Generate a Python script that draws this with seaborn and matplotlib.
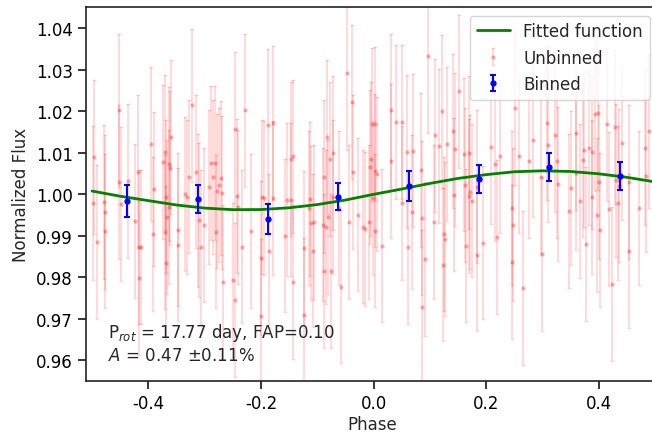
import numpy as np
import pandas as pd
import matplotlib
matplotlib.use("Agg")
import matplotlib.pyplot as plt
import seaborn as sns

# ---------------- data ----------------
fit_phase = [-0.50, -0.45, -0.40, -0.35, -0.30, -0.25, -0.20, -0.15, -0.10, -0.05,
             0.00, 0.05, 0.10, 0.15, 0.20, 0.25, 0.30, 0.35, 0.40, 0.45, 0.50]
fit_flux = [1.00075, 0.99950, 0.99844, 0.99739, 0.99664, 0.99626, 0.99629, 0.99671,
            0.99749, 0.99858, 0.99995, 1.00123, 1.00258, 1.00379, 1.00470, 1.00539,
            1.00562, 1.00546, 1.00490, 1.00405, 1.00295]

binned_phase = [-0.4375, -0.3125, -0.1875, -0.0625, 0.0625, 0.1875, 0.3125, 0.4375]
binned_flux = [0.99835, 0.99883, 0.99402, 0.99940, 1.00193, 1.00360, 1.00647, 1.00440]
binned_err = [0.0039, 0.0034, 0.0035, 0.0032, 0.0037, 0.0034, 0.0034, 0.0033]

unbinned_phase = [
    -0.4959, -0.4977, -0.4917, -0.4781, -0.4769, -0.4769, -0.4515, -0.4515, -0.4479, -0.4361,
    -0.4243, -0.4177, -0.4159, -0.4130, -0.4159, -0.3947, -0.3899, -0.3911, -0.3733, -0.3698,
    -0.3686, -0.3662, -0.3698, -0.3686, -0.3627, -0.3615, -0.3597, -0.3639, -0.3473, -0.3473,
    -0.3342, -0.3318, -0.3283, -0.3224, -0.3153, -0.3117, -0.3105, -0.3058, -0.3011, -0.2928,
    -0.2880, -0.2857, -0.2809, -0.2786, -0.2797, -0.2738, -0.2703, -0.2691, -0.2673, -0.2501,
    -0.2466, -0.2454, -0.2424, -0.2407, -0.2336, -0.2277, -0.2170, -0.1992, -0.1992, -0.1980,
    -0.1945, -0.1874, -0.1862, -0.1791, -0.1791,
    -0.1578, -0.1531, -0.1471, -0.1471, -0.1436, -0.1424, -0.1234, -0.1234, -0.1152, -0.1128,
    -0.1104, -0.1057, -0.1069, -0.0879, -0.0897, -0.0879, -0.0844, -0.0820, -0.0808, -0.0779,
    -0.0749, -0.0719, -0.0713, -0.0619, -0.0583, -0.0465, -0.0429, -0.0382, -0.0364, -0.0275,
    -0.0187, -0.0157, -0.0086, -0.0068, -0.0050, -0.0027, -0.0009,
    0.0021, 0.0021, 0.0056, 0.0021, 0.0157, 0.0305, 0.0305, 0.0394, 0.0512, 0.0512,
    0.0601, 0.0613, 0.0708, 0.0690, 0.0838, 0.0867, 0.0856, 0.0909, 0.0974, 0.1075,
    0.1098, 0.1169, 0.1211, 0.1252, 0.1264, 0.1240, 0.1300, 0.1418, 0.1442, 0.1430,
    0.1519, 0.1608, 0.1619, 0.1637, 0.1690, 0.1696,
    0.1714, 0.1744, 0.1832, 0.1844, 0.1951, 0.2081, 0.2158, 0.2200, 0.2247, 0.2460,
    0.2472, 0.2460, 0.2513, 0.2590, 0.2661, 0.2768, 0.2839, 0.2969, 0.2987, 0.3076,
    0.3105, 0.3230, 0.3265, 0.3283,
    0.3467, 0.3502, 0.3597, 0.3597, 0.3668, 0.3715, 0.3745, 0.3774, 0.3822, 0.3881,
    0.3881, 0.3940, 0.3982, 0.3976, 0.4011, 0.4029, 0.4142, 0.4177, 0.4236, 0.4284,
    0.4307, 0.4343, 0.4367, 0.4414, 0.4532, 0.4532, 0.4710, 0.4817, 0.4840, 0.4899,
]
unbinned_flux = [
    1.00891, 0.99782, 0.98843, 0.99806, 0.99565, 0.99108, 1.02015, 1.00288, 0.99766, 1.00312,
    0.99349, 1.00545, 0.98722, 0.98722, 0.97983, 1.01212, 1.00120, 0.99043, 1.00770, 1.01011,
    0.99943, 0.99445, 0.99084, 0.98337, 1.00730, 1.00634, 1.01373, 0.99686, 0.99148, 0.98786,
    1.00007, 0.99927, 1.00425, 1.02136, 1.00545, 0.99606, 0.99381, 0.98722, 0.99260, 1.00168,
    1.00746, 1.00409, 1.00746, 1.00071, 0.99100, 1.00224, 1.00385, 1.00039, 0.97879, 0.97935,
    1.01565, 0.97453, 0.99959, 0.99686, 0.98738, 1.02015, 0.99108, 0.98465, 0.97059, 0.99927,
    0.99911, 1.01654, 0.98626, 1.01710, 0.99911,
    0.99003, 0.99871, 0.99871, 1.00851, 1.00907, 0.97879, 0.98698, 0.97100, 0.99670, 0.99887,
    0.99300, 0.99325, 0.98642, 1.00425, 0.99268, 0.98144, 0.99204, 1.01373, 0.99445, 1.00851,
    0.98144, 1.00995, 0.99927, 0.99670, 0.97774, 1.02915, 0.99325, 1.02216, 1.00529, 0.99509,
    0.99220, 0.99164, 0.99325, 1.00650, 1.00851, 1.01678, 0.99911,
    1.01694, 1.00569, 1.00489, 0.99124, 0.98762, 1.02015, 1.00794, 1.01734, 1.01734, 0.99790,
    1.01027, 0.98722, 1.01051, 0.99565, 1.00585, 0.99429, 0.97292, 0.98441, 1.03324, 0.99325,
    1.01413, 1.01156, 1.01991, 0.99043, 0.98915, 0.98304, 1.01212, 1.01517, 1.01076, 0.99991,
    1.02473, 1.00955, 1.00224, 0.98762, 1.01003, 0.99959,
    1.00047, 0.99847, 1.00184, 0.98545, 0.98835, 1.01132, 1.00730, 0.98963, 1.00907, 0.99670,
    0.99268, 0.98361, 1.02080, 1.00907, 0.97742, 1.00794, 1.01308, 1.00409, 0.98561, 1.01710,
    1.01172, 1.01413, 1.00794, 1.00248,
    0.99590, 1.00144, 1.01469, 1.00505, 0.99831, 1.00826, 1.01067, 0.98802, 1.01108, 1.01011,
    0.99927, 1.01919, 1.01951, 0.99493, 1.00288, 0.99140, 1.01678, 0.99646, 0.97839, 1.01614,
    1.00329, 0.99790, 1.00208, 1.01228, 0.98626, 1.00288, 0.99670, 1.01116, 1.00449, 1.01517,
]
unbinned_err = 0.0185

x_ticks = [-0.4, -0.2, 0.0, 0.2, 0.4]
y_ticks = [0.96, 0.97, 0.98, 0.99, 1.00, 1.01, 1.02, 1.03, 1.04]

label_text = "P$_{rot}$ = 17.77 day, FAP=0.10\n$A$ = 0.47 \u00b10.11%"

# ---------------- style ----------------
sns.set_style("ticks")
plt.rcParams["font.family"] = ["DejaVu Sans"]
plt.rcParams["font.size"] = 12
plt.rcParams["axes.linewidth"] = 1.2
plt.rcParams["axes.edgecolor"] = "#222222"
plt.rcParams["xtick.major.size"] = 6
plt.rcParams["ytick.major.size"] = 6
plt.rcParams["xtick.major.width"] = 1.1
plt.rcParams["ytick.major.width"] = 1.1
plt.rcParams["xtick.color"] = "black"
plt.rcParams["ytick.color"] = "black"

W, H, DPI = 652, 435, 100
fig = plt.figure(figsize=(W / DPI, H / DPI), dpi=DPI)
ax_left, ax_right, ax_bottom, ax_top = 86, 658, 53, 426.7
ax = fig.add_axes([ax_left / W, ax_bottom / H, (ax_right - ax_left) / W, (ax_top - ax_bottom) / H])

fit_df = pd.DataFrame({"phase": fit_phase, "flux": fit_flux})
sns.lineplot(data=fit_df, x="phase", y="flux", ax=ax, color="green", lw=2,
             label="Fitted function", zorder=4)

ax.errorbar(unbinned_phase, unbinned_flux, yerr=unbinned_err, fmt="o", ms=3,
            color=(1, 0, 0, 0.32), mec=(1, 0, 0, 0.0), ecolor=(1, 0, 0, 0.17),
            elinewidth=1.2, capsize=1.5, capthick=1.0, label="Unbinned", zorder=2)
ax.errorbar(binned_phase, binned_flux, yerr=binned_err, fmt="o", ms=3.5,
            color="blue", ecolor="blue", elinewidth=1.5, capsize=2.5,
            capthick=1.5, label="Binned", zorder=5)

ax.set_xlim(-0.5107, 0.5053)
ax.set_ylim(0.955, 1.045)
ax.set_xticks(x_ticks)
ax.set_yticks(y_ticks)
ax.set_yticklabels([f"{v:.2f}" for v in y_ticks])
ax.set_xticklabels([f"{v:.1f}" for v in x_ticks])
ax.set_xlabel("Phase", labelpad=2)
ax.set_ylabel("Normalized Flux")
for s in ["top", "right"]:
    ax.spines[s].set_visible(True)

h, l = ax.get_legend_handles_labels()
order = [l.index("Fitted function"), l.index("Unbinned"), l.index("Binned")]
ax.legend([h[i] for i in order], [l[i] for i in order], loc="upper right",
          frameon=True, fancybox=True, framealpha=0.8, edgecolor="0.8")

ax.text(108 / W, (435 - 360.7) / H, label_text, transform=fig.transFigure,
        ha="left", va="baseline", fontsize=12)

fig.savefig("out.png", dpi=DPI)
